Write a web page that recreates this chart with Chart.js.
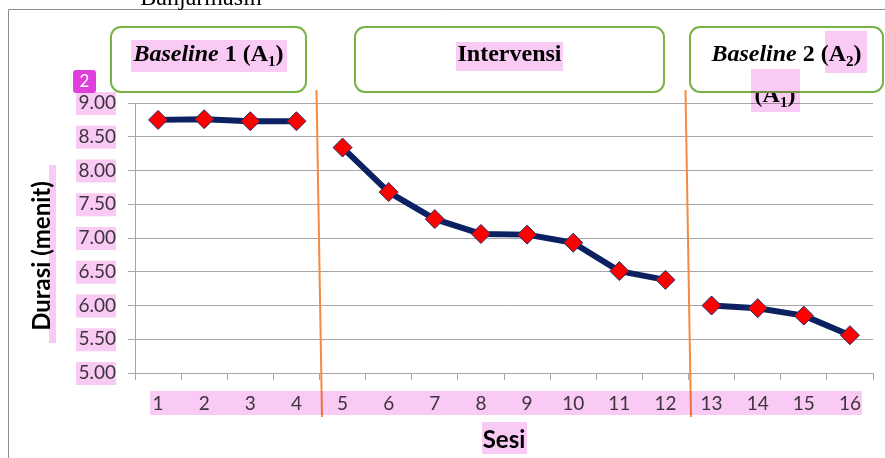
<!DOCTYPE html>
<html>
<head>
<meta charset="utf-8">
<script src="https://cdn.jsdelivr.net/npm/chart.js@4/dist/chart.umd.min.js"></script>
<style>
  html, body { margin: 0; padding: 0; background: #fff; overflow: hidden; }
  #wrap { width: 885px; height: 458px; }
</style>
</head>
<body>
<div id="wrap"><canvas id="chart" width="885" height="458"></canvas></div>
<script>
// values
const sesi = ['1', '2', '3', '4', '5', '6', '7', '8', '9', '10', '11', '12', '13', '14', '15', '16'];
const baseline1 = [8.75, 8.76, 8.73, 8.73];
const intervensi = [8.34, 7.68, 7.28, 7.06, 7.05, 6.93, 6.51, 6.38];
const baseline2 = [6.00, 5.96, 5.85, 5.56];
const yMin = 5, yMax = 9, yStep = 0.5;

const pageTitle = 'Banjarmasin';
const yTitle = 'Durasi (menit)';
const xTitle = 'Sesi';

// put one phase's values at its place on the 16 sessions
function place(values, start) {
    const arr = sesi.map(() => null);
    values.forEach((v, i) => { arr[start + i] = v; });
    return arr;
}

const lineStyle = {
    borderColor: '#0B2161',
    borderWidth: 6,
    borderJoinStyle: 'round',
    borderCapStyle: 'round',
    pointStyle: 'rectRot',
    pointRadius: 9.5,
    pointHoverRadius: 9.5,
    pointBackgroundColor: '#FF0000',
    pointBorderColor: '#1F2F6B',
    pointBorderWidth: 1,
    tension: 0,
    spanGaps: false,
    fill: false
};

const serif = '"Liberation Serif", "Times New Roman", serif';
const F = {
    bi: 'italic bold 24px ' + serif,
    b: 'bold 24px ' + serif,
    sub: 'bold 15px ' + serif
};

function drawRich(ctx, parts, cx, baseline) {
    let total = 0;
    const items = parts.map(p => {
        ctx.font = F[p[1]];
        const w = ctx.measureText(p[0]).width;
        total += w;
        return { t: p[0], f: F[p[1]], w: w, dy: p[1] === 'sub' ? 5 : 0 };
    });
    let x = cx - total / 2;
    ctx.textAlign = 'left';
    ctx.textBaseline = 'alphabetic';
    items.forEach(it => {
        ctx.font = it.f;
        ctx.fillText(it.t, x, baseline + it.dy);
        x += it.w;
    });
}

const decor = {
    id: 'decor',
    beforeDraw(chart) {
        const ctx = chart.ctx;
        ctx.save();
        ctx.fillStyle = '#fff';
        ctx.fillRect(0, 0, chart.width, chart.height);
        // frame of the pasted picture
        ctx.strokeStyle = '#8c8c8c';
        ctx.lineWidth = 1;
        ctx.beginPath();
        ctx.moveTo(8.5, 458);
        ctx.lineTo(8.5, 9.5);
        ctx.lineTo(885, 9.5);
        ctx.stroke();
        ctx.fillStyle = '#000';
        ctx.font = '24px ' + serif;
        ctx.textAlign = 'center';
        ctx.textBaseline = 'alphabetic';
        ctx.fillText(pageTitle, 201, 5);
        ctx.restore();
    },
    afterDraw(chart) {
        const ctx = chart.ctx;
        const x = chart.scales.x, y = chart.scales.y;
        ctx.save();

        // phase change lines
        ctx.strokeStyle = '#F58A3C';
        ctx.lineWidth = 2;
        [3, 11].forEach(i => {
            const m = (x.getPixelForValue(i) + x.getPixelForValue(i + 1)) / 2;
            ctx.beginPath();
            ctx.moveTo(m - 3, 90);
            ctx.lineTo(m + 2.5, 417);
            ctx.stroke();
        });

        // y axis title
        ctx.fillStyle = '#000';
        ctx.font = 'bold 24px Lato';
        ctx.textAlign = 'center';
        ctx.textBaseline = 'middle';
        ctx.translate(42, 256);
        ctx.rotate(-Math.PI / 2);
        ctx.fillText(yTitle, 0, 0);
        ctx.setTransform(1, 0, 0, 1, 0, 0);

        // stray label half hidden under the third box
        ctx.fillStyle = '#000';
        drawRich(ctx, [['(A', 'b'], ['1', 'sub'], [')', 'b']], 775, 102);

        // phase boxes
        const boxes = [
            { x: 111, w: 195, parts: [['Baseline', 'bi'], [' 1 (A', 'b'], ['1', 'sub'], [')', 'b']] },
            { x: 355, w: 309, parts: [['Intervensi', 'b']] },
            { x: 690, w: 193, parts: [['Baseline', 'bi'], [' 2 (A', 'b'], ['2', 'sub'], [')', 'b']] }
        ];
        boxes.forEach(bx => {
            ctx.beginPath();
            ctx.roundRect(bx.x, 27, bx.w, 65, 10);
            ctx.fillStyle = '#fff';
            ctx.fill();
            ctx.strokeStyle = '#77B347';
            ctx.lineWidth = 2;
            ctx.stroke();
            ctx.fillStyle = '#000';
            drawRich(ctx, bx.parts, bx.x + bx.w / 2, 61);
        });

        // pink search highlights
        ctx.globalCompositeOperation = 'multiply';
        ctx.fillStyle = '#F9CBF4';
        const hl = (a, b, c, d) => ctx.fillRect(a, b, c - a, d - b);
        for (let v = yMin; v <= yMax + 1e-9; v += yStep) {
            const py = y.getPixelForValue(v);
            hl(76, py - 11, 116, py + 12);
        }
        hl(x.getPixelForValue(0) - 8, 391, x.getPixelForValue(15) + 12, 415);
        hl(482, 422, 527, 454);
        hl(49, 165, 56, 343);
        hl(131, 40, 287, 72);
        hl(456, 42, 563, 71);
        hl(825, 31, 867, 73);
        hl(751, 69, 800, 112);
        ctx.globalCompositeOperation = 'source-over';

        // page marker badge
        ctx.fillStyle = '#E03FDB';
        ctx.beginPath();
        ctx.roundRect(73, 70, 23, 23, 3);
        ctx.fill();
        ctx.fillStyle = '#fff';
        ctx.font = '17px Lato';
        ctx.textAlign = 'center';
        ctx.textBaseline = 'middle';
        ctx.fillText('2', 84.5, 82);

        ctx.restore();
    }
};

const ctx = document.getElementById('chart').getContext('2d');
new Chart(ctx, {
    type: 'line',
    data: {
        labels: sesi,
        datasets: [
            Object.assign({ label: 'Baseline 1', data: place(baseline1, 0) }, lineStyle),
            Object.assign({ label: 'Intervensi', data: place(intervensi, baseline1.length) }, lineStyle),
            Object.assign({ label: 'Baseline 2', data: place(baseline2, baseline1.length + intervensi.length) }, lineStyle)
        ]
    },
    options: {
        responsive: false,
        devicePixelRatio: 1,
        animation: false,
        layout: { padding: { top: 103, right: 12, left: 0, bottom: 0 } },
        plugins: {
            legend: { display: false },
            tooltip: { enabled: false }
        },
        scales: {
            x: {
                type: 'category',
                offset: true,
                grid: {
                    offset: true,
                    drawOnChartArea: false,
                    drawTicks: true,
                    tickLength: 7,
                    color: '#a6a6a6'
                },
                border: { color: '#a6a6a6' },
                ticks: {
                    color: '#404040',
                    padding: 12,
                    maxRotation: 0,
                    autoSkip: false,
                    font: { family: 'Lato', size: 19 }
                },
                title: {
                    display: true,
                    text: xTitle,
                    color: '#000',
                    font: { family: 'Lato', size: 24, weight: 'bold' },
                    padding: { top: 0, bottom: 3 }
                },
                afterFit(scale) { scale.height = 85; }
            },
            y: {
                min: yMin,
                max: yMax,
                grid: { color: '#a6a6a6', tickLength: 7 },
                border: { color: '#a6a6a6' },
                ticks: {
                    stepSize: yStep,
                    color: '#404040',
                    padding: 12,
                    font: { family: 'Lato', size: 19 },
                    callback: v => v.toFixed(2)
                },
                afterFit(scale) { scale.width = 135; }
            }
        }
    },
    plugins: [decor]
});
</script>
</body>
</html>
